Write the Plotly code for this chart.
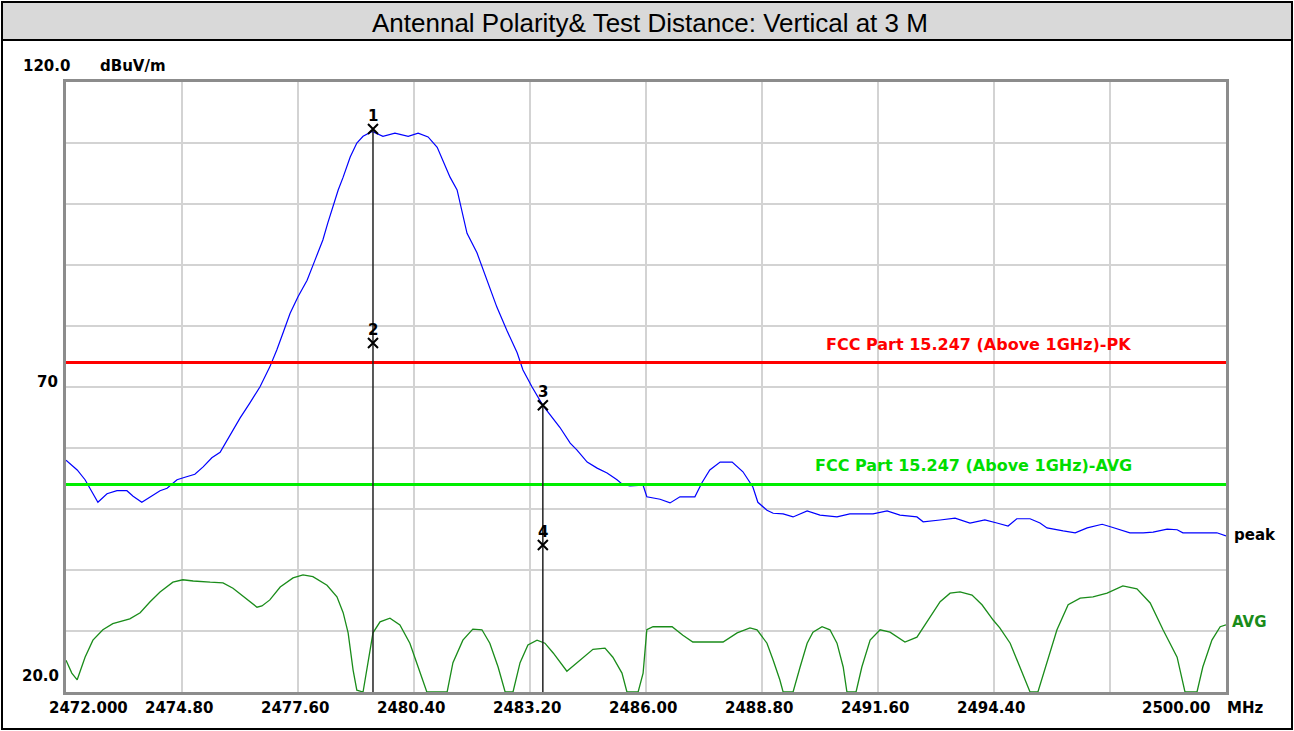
import plotly.graph_objects as go

# ---- data ----
peak_freq = [2472.00, 2472.27, 2472.46, 2472.58, 2472.77, 2472.99, 2473.23, 2473.47, 2473.62, 2473.83,
             2474.03, 2474.27, 2474.44, 2474.68, 2474.87, 2475.11, 2475.31, 2475.52, 2475.72, 2475.91,
             2476.20, 2476.44, 2476.68, 2476.92, 2477.09, 2477.24, 2477.41, 2477.60, 2477.82, 2478.01,
             2478.20, 2478.32, 2478.44, 2478.57, 2478.69, 2478.86, 2479.02, 2479.17, 2479.39, 2479.65,
             2479.94, 2480.26, 2480.50, 2480.74, 2480.96, 2481.10, 2481.27, 2481.44, 2481.56, 2481.68,
             2481.92, 2482.16, 2482.40, 2482.64, 2482.89, 2483.03, 2483.25, 2483.51, 2483.76, 2483.92,
             2484.17, 2484.33, 2484.58, 2484.82, 2485.06, 2485.30, 2485.42, 2485.61, 2485.93, 2486.02,
             2486.34, 2486.58, 2486.82, 2487.18, 2487.35, 2487.54, 2487.79, 2488.08, 2488.34, 2488.58,
             2488.70, 2488.92, 2489.07, 2489.31, 2489.55, 2489.89, 2490.20, 2490.61, 2490.92, 2491.48,
             2491.82, 2492.13, 2492.54, 2492.69, 2493.10, 2493.46, 2493.82, 2494.18, 2494.47, 2494.74,
             2494.95, 2495.27, 2495.51, 2495.68, 2496.07, 2496.36, 2496.65, 2497.01, 2497.25, 2497.68,
             2498.00, 2498.24, 2498.58, 2498.82, 2498.96, 2499.30, 2499.44, 2499.78, 2500.00]
peak_level = [58.0, 56.4, 54.8, 53.4, 51.1, 52.5, 53.0, 53.0, 52.1, 51.1,
              52.0, 53.0, 53.4, 54.8, 55.2, 55.7, 56.9, 58.4, 59.3, 61.6,
              64.9, 67.4, 70.0, 73.3, 76.1, 78.9, 82.1, 84.8, 87.5, 90.8,
              94.1, 96.9, 99.5, 102.3, 104.4, 107.7, 110.0, 111.1, 111.9, 111.1,
              111.6, 111.1, 111.6, 111.0, 109.3, 107.2, 104.4, 102.3, 99.0, 95.2,
              92.0, 87.5, 83.1, 79.3, 75.6, 72.8, 70.0, 67.0, 64.9, 63.4,
              60.8, 59.7, 57.7, 56.7, 55.9, 54.8, 54.1, 53.8, 53.9, 52.0,
              51.6, 51.0, 52.0, 52.0, 54.3, 56.4, 57.7, 57.7, 56.1, 53.6,
              51.1, 49.8, 49.3, 49.2, 48.7, 49.7, 49.0, 48.7, 49.2, 49.2,
              49.7, 49.0, 48.7, 47.9, 48.2, 48.5, 47.7, 48.2, 47.7, 47.2,
              48.4, 48.4, 47.7, 46.9, 46.4, 46.1, 46.9, 47.5, 47.0, 46.1,
              46.1, 46.2, 46.7, 46.6, 46.1, 46.1, 46.2, 46.1, 45.6]

avg_freq = [2472.00, 2472.14, 2472.27, 2472.46, 2472.65, 2472.89, 2473.13, 2473.54, 2473.79, 2474.03,
            2474.27, 2474.58, 2474.82, 2475.07, 2475.48, 2475.79, 2476.03, 2476.32, 2476.61, 2476.73,
            2476.92, 2477.17, 2477.48, 2477.72, 2477.96, 2478.30, 2478.54, 2478.69, 2478.81, 2478.93,
            2479.02, 2479.17, 2479.29, 2479.41, 2479.58, 2479.82, 2480.06, 2480.30, 2480.50, 2480.71,
            2481.20, 2481.34, 2481.58, 2481.82, 2482.04, 2482.23, 2482.43, 2482.60, 2482.79, 2482.96,
            2483.15, 2483.37, 2483.56, 2483.76, 2484.09, 2484.41, 2484.72, 2485.01, 2485.20, 2485.42,
            2485.54, 2485.81, 2485.93, 2486.02, 2486.17, 2486.63, 2486.89, 2487.13, 2487.86, 2488.20,
            2488.51, 2488.68, 2488.92, 2489.07, 2489.23, 2489.31, 2489.55, 2489.72, 2489.89, 2490.03,
            2490.25, 2490.44, 2490.61, 2490.76, 2490.85, 2491.07, 2491.21, 2491.41, 2491.65, 2491.89,
            2492.25, 2492.54, 2492.78, 2493.10, 2493.34, 2493.58, 2493.87, 2494.11, 2494.38, 2494.54,
            2494.79, 2494.98, 2495.27, 2495.46, 2495.68, 2495.92, 2496.19, 2496.48, 2496.79, 2497.13,
            2497.51, 2497.85, 2498.17, 2498.48, 2498.82, 2499.01, 2499.30, 2499.44, 2499.66, 2499.86,
            2500.00]
avg_level = [25.2, 23.1, 22.0, 25.7, 28.5, 30.2, 31.2, 32.0, 33.0, 34.8,
             36.4, 38.0, 38.4, 38.2, 38.0, 37.9, 37.0, 35.4, 33.9, 34.1,
             35.1, 37.2, 38.7, 39.2, 38.9, 37.5, 35.6, 33.0, 29.7, 23.6,
             20.3, 20.0, 24.8, 29.7, 31.5, 32.1, 31.0, 28.0, 24.1, 20.0,
             20.0, 24.8, 28.5, 30.3, 30.2, 28.0, 24.1, 20.0, 20.0, 24.8,
             27.7, 28.5, 28.0, 26.4, 23.4, 25.2, 27.0, 27.2, 25.7, 23.1,
             20.0, 20.0, 23.1, 30.2, 30.7, 30.7, 29.3, 28.2, 28.2, 29.7,
             30.5, 30.2, 28.0, 25.2, 22.0, 20.0, 20.0, 24.1, 28.0, 29.8,
             30.7, 30.2, 28.0, 24.1, 20.0, 20.0, 24.1, 28.5, 30.2, 29.8,
             28.2, 29.0, 31.5, 34.8, 36.2, 36.4, 35.9, 34.3, 31.8, 30.5,
             28.0, 24.8, 20.0, 20.0, 24.8, 30.2, 34.3, 35.4, 35.6, 36.2,
             37.4, 36.9, 34.6, 30.2, 25.7, 20.0, 20.0, 24.1, 28.5, 30.7,
             31.0]

marker_ids = ["1", "2", "3", "4"]
marker_freq = [2479.41, 2479.41, 2483.51, 2483.51]
marker_level = [112.3, 77.2, 67.0, 44.1]

limit_pk = 74.0
limit_avg = 54.0
limit_pk_name = "FCC Part 15.247 (Above 1GHz)-PK"
limit_avg_name = "FCC Part 15.247 (Above 1GHz)-AVG"

x_min, x_max = 2472.0, 2500.0
y_min, y_max = 20.0, 120.0
x_grid = [2472.0, 2474.8, 2477.6, 2480.4, 2483.2, 2486.0, 2488.8, 2491.6, 2494.4, 2497.2, 2500.0]
x_tick_text = ["2472.000", "2474.80", "2477.60", "2480.40", "2483.20", "2486.00",
               "2488.80", "2491.60", "2494.40", "", "2500.00"]

title_text = "Antennal Polarity& Test Distance: Vertical at 3 M"

# ---- layout helpers (pixel -> paper) ----
L, R, T, B = 66, 1226, 82, 692
W, H = 1294, 731


def px_x(p):
    return (p - L) / (R - L)


def px_y(p):
    return (B - p) / (B - T)


LABEL_FONT = dict(family="DejaVu Sans", size=15, color="black", weight="bold")


def label(px, py, text, font=LABEL_FONT, xanchor="center"):
    fig.add_annotation(x=px_x(px), y=px_y(py), xref="paper", yref="paper", text=text,
                       xanchor=xanchor, yanchor="middle", showarrow=False, font=font)


fig = go.Figure()

# 测量曲线
fig.add_trace(go.Scatter(x=peak_freq, y=peak_level, mode="lines",
                         line=dict(color="#0000ff", width=1.2), name="peak"))
fig.add_trace(go.Scatter(x=avg_freq, y=avg_level, mode="lines",
                         line=dict(color="#1a8c1a", width=1.3), name="AVG"))

# 限值线
fig.add_trace(go.Scatter(x=[x_min, x_max], y=[limit_pk, limit_pk], mode="lines",
                         line=dict(color="#ff0000", width=3), name=limit_pk_name))
fig.add_trace(go.Scatter(x=[x_min, x_max], y=[limit_avg, limit_avg], mode="lines",
                         line=dict(color="#00ee00", width=3), name=limit_avg_name))

# marker vertical lines
for f, lv in zip(marker_freq[::2], marker_level[::2]):
    fig.add_trace(go.Scatter(x=[f, f], y=[lv, y_min], mode="lines",
                             line=dict(color="#222222", width=1.5), showlegend=False))

fig.add_trace(go.Scatter(x=marker_freq, y=marker_level, mode="markers",
                         marker=dict(symbol="x-thin", size=10, color="black",
                                     line=dict(color="black", width=2)),
                         showlegend=False))

for mid, f, lv in zip(marker_ids, marker_freq, marker_level):
    fig.add_annotation(x=f, y=lv, text=mid, showarrow=False, yshift=13,
                       xanchor="center", yanchor="middle",
                       font=dict(family="DejaVu Sans", size=15, color="black", weight="bold"))

# limit labels
label(978, 344, limit_pk_name, dict(LABEL_FONT, size=16, color="#ff0000"))
label(973, 465, limit_avg_name, dict(LABEL_FONT, size=16, color="#00dd00"))

# x tick labels
for i, (v, t) in enumerate(zip(x_grid, x_tick_text)):
    if not t:
        continue
    shift = -3
    if i == 0:
        shift = 22
    elif i == len(x_grid) - 1:
        shift = -50
    fig.add_annotation(x=v, y=px_y(708), xref="x", yref="paper", text=t, showarrow=False,
                       xanchor="center", yanchor="middle", xshift=shift, font=LABEL_FONT)

label(1245, 708, "MHz")

# y labels
label(46, 66, "120.0")
label(133, 66, "dBuV/m")
label(60, 382, "70", xanchor="right")
label(40, 676, "20.0")

# trace names at right
label(1232, 535, "peak", xanchor="left")
label(1230, 622, "AVG", dict(LABEL_FONT, color="#1a8c1a"), xanchor="left")

# title band + frame
fig.add_shape(type="rect", xref="paper", yref="paper",
              x0=px_x(2), x1=px_x(1292), y0=px_y(2), y1=px_y(40),
              fillcolor="#d9d9d9", line=dict(color="black", width=2), layer="below")
fig.add_shape(type="rect", xref="paper", yref="paper",
              x0=px_x(2), x1=px_x(1292), y0=px_y(2), y1=px_y(729),
              line=dict(color="black", width=2))
label(650, 23, title_text, dict(family="Liberation Sans", size=26, color="black"))

fig.update_layout(
    width=W, height=H,
    margin=dict(l=L, r=W - R, t=T, b=H - B),
    paper_bgcolor="white", plot_bgcolor="white",
    showlegend=False,
)
fig.update_xaxes(range=[x_min, x_max], tickvals=x_grid, showticklabels=False,
                 showgrid=True, gridcolor="#d3d3d3", gridwidth=2,
                 showline=True, mirror=True, linecolor="#8c8c8c", linewidth=3,
                 zeroline=False, ticks="")
fig.update_yaxes(range=[y_min, y_max], dtick=10, tick0=20, showticklabels=False,
                 showgrid=True, gridcolor="#d3d3d3", gridwidth=2,
                 showline=True, mirror=True, linecolor="#8c8c8c", linewidth=3,
                 zeroline=False, ticks="")

fig.write_html("out.html", config={"displayModeBar": False},
               post_script="document.body.style.margin='0';document.body.style.overflow='hidden';")
